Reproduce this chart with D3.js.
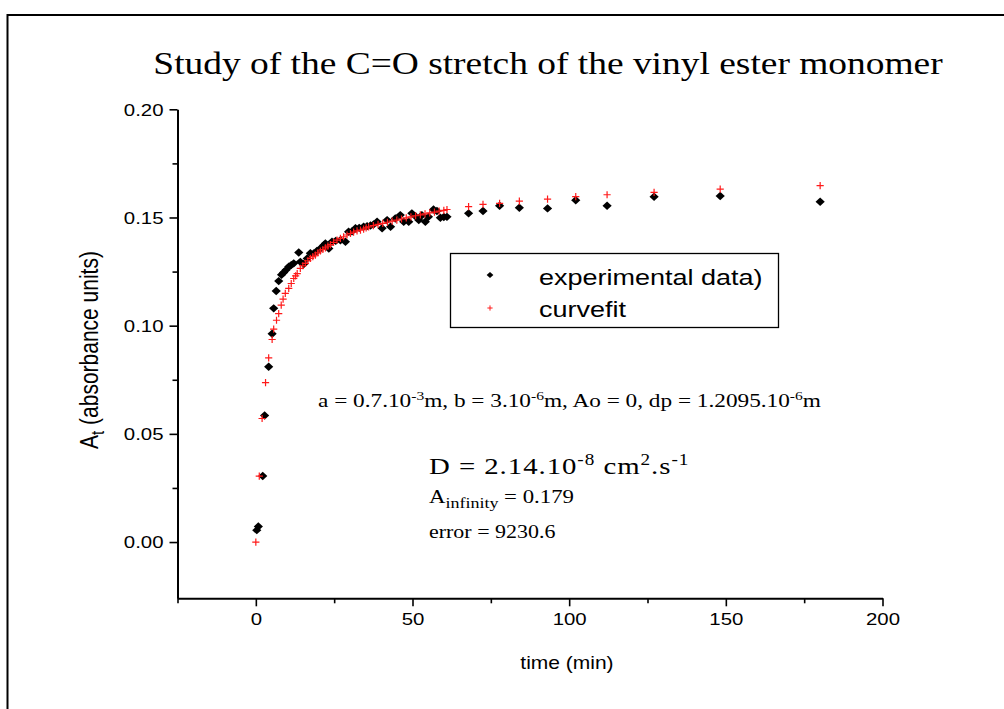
<!DOCTYPE html>
<html><head><meta charset="utf-8">
<script src="https://cdn.jsdelivr.net/npm/d3@7"></script>
<style>body{margin:0;background:#fff} svg{display:block}</style>
</head><body><svg id="c" width="1004" height="709"></svg>
<script>
// ---- data ----
const expTime = [0.3, 0.8, 2.2, 2.8, 4.1, 5.2, 5.7, 6.5, 7.3, 8.2, 8.9, 9.7, 10.5, 11.3, 12.1, 13.7, 14.2, 15.3, 16.4, 17.4, 18.5, 19.5, 20.6, 21.7, 22.2, 23.3, 24.3, 25.5, 27, 28.6, 29.6, 30.7, 31.8, 33, 34.4, 35.5, 36.6, 37.6, 38.7, 40.3, 41.9, 43, 44.5, 46.1, 47.2, 48.8, 49.8, 51, 52, 53, 54.1, 55.1, 56.7, 57.8, 58.9, 60, 61, 67.9, 72.5, 77.8, 84.1, 93.1, 102.1, 112.1, 127.1, 148.2, 180.1];
const expValue = [0.0055, 0.0072, 0.0305, 0.0585, 0.081, 0.0963, 0.108, 0.116, 0.1206, 0.1235, 0.1246, 0.1258, 0.1272, 0.128, 0.1288, 0.1338, 0.1295, 0.1285, 0.1311, 0.1335, 0.1334, 0.1345, 0.1357, 0.1372, 0.138, 0.1357, 0.1388, 0.1392, 0.1395, 0.1388, 0.1434, 0.1436, 0.145, 0.1452, 0.1457, 0.146, 0.1463, 0.1468, 0.148, 0.145, 0.1488, 0.1457, 0.1495, 0.1511, 0.148, 0.148, 0.1519, 0.1505, 0.1488, 0.151, 0.148, 0.1503, 0.1537, 0.153, 0.1499, 0.1502, 0.1503, 0.1519, 0.153, 0.1554, 0.1545, 0.1542, 0.158, 0.1554, 0.1596, 0.1599, 0.1573];
const fitTime = [0, 1.1, 2.0, 3.1, 4.1, 5.2, 5.7, 6.6, 7.3, 8.1, 8.7, 9.4, 10.5, 11.3, 12.1, 12.7, 13.2, 14.2, 15, 15.8, 16.6, 17.4, 18.2, 19, 19.8, 20.6, 21.4, 22.2, 23, 23.8, 24.8, 25.9, 27, 28, 29.1, 30.2, 31.2, 32.3, 33.4, 34.4, 35.2, 36, 37.5, 39, 40.5, 42, 43.5, 45, 46.5, 48, 49.5, 51, 52.5, 54, 55.5, 57, 58.5, 60, 61, 67.9, 72.5, 77.8, 84.1, 93.1, 102.1, 112.1, 127.1, 148.2, 180.1];
const fitValue = [0, 0.0305, 0.0571, 0.0737, 0.0851, 0.0936, 0.0984, 0.1025, 0.1056, 0.1095, 0.1123, 0.1149, 0.1172, 0.1195, 0.1218, 0.123, 0.1241, 0.1265, 0.1277, 0.1288, 0.13, 0.1311, 0.1319, 0.1326, 0.1336, 0.1345, 0.1352, 0.136, 0.1368, 0.1375, 0.1385, 0.1395, 0.1403, 0.1411, 0.1419, 0.1426, 0.1432, 0.1438, 0.1442, 0.1446, 0.1452, 0.1457, 0.1462, 0.1468, 0.1473, 0.1478, 0.1483, 0.1488, 0.1493, 0.1498, 0.1503, 0.1508, 0.1512, 0.1517, 0.1521, 0.1525, 0.1529, 0.1533, 0.1537, 0.155, 0.1561, 0.1565, 0.1576, 0.1585, 0.1596, 0.1605, 0.1616, 0.1631, 0.1647];
const xMajorTicks = [0, 50, 100, 150, 200];
const xMinorTicks = [-25, 25, 75, 125, 175];
const yMajorTicks = [0, 0.05, 0.10, 0.15, 0.20];
const yMinorTicks = [0.025, 0.075, 0.125, 0.175];
const titleText = "Study of the C=O stretch of the vinyl ester monomer";
const xTitle = "time (min)";
const seriesNames = ["experimental data)", "curvefit"];

// ---- drawing ----
const SX = 1.2; // horizontal stretch of all text in the original
const svg = d3.select("#c");
svg.append("rect").attr("x", 7.5).attr("y", 15).attr("width", 1100).attr("height", 800)
  .attr("fill", "none").attr("stroke", "#000").attr("stroke-width", 2);

const x = d3.scaleLinear().domain([-25, 200]).range([177.5, 882.5]);
const y = d3.scaleLinear().domain([-0.026, 0.20]).range([598.3, 109.3]);

function stretchedText(g, px, py, size, family, anchor) {
  return g.append("text")
    .attr("transform", `translate(${px},${py}) scale(${SX},1)`)
    .attr("font-size", size).attr("font-family", family)
    .attr("text-anchor", anchor || "start").attr("fill", "#000");
}
const SANS = "'Liberation Sans', Arial, sans-serif";
const SERIF = "'Liberation Serif', 'Times New Roman', serif";

// axes
const gx = svg.append("g").attr("transform", `translate(0,${y.range()[0]})`);
gx.call(d3.axisBottom(x).tickValues(xMajorTicks).tickSize(8).tickSizeOuter(0).tickFormat(d3.format("d")));
const gxm = svg.append("g").attr("transform", `translate(0,${y.range()[0]})`);
gxm.call(d3.axisBottom(x).tickValues(xMinorTicks).tickSize(5).tickSizeOuter(0).tickFormat(""));
gxm.select(".domain").remove();
const gy = svg.append("g").attr("transform", `translate(${x.range()[0]},0)`);
gy.call(d3.axisLeft(y).tickValues(yMajorTicks).tickSize(8).tickSizeOuter(0).tickFormat(d3.format(".2f")));
const gym = svg.append("g").attr("transform", `translate(${x.range()[0]},0)`);
gym.call(d3.axisLeft(y).tickValues(yMinorTicks).tickSize(5).tickSizeOuter(0).tickFormat(""));
gym.select(".domain").remove();

svg.selectAll(".domain").attr("stroke-width", 2);
svg.selectAll(".tick line").attr("stroke-width", 1.6);
gx.selectAll(".tick text").attr("font-size", 17).attr("font-family", SANS)
  .attr("y", 0).attr("dy", 0)
  .attr("transform", `translate(0,27) scale(${SX},1)`);
gy.selectAll(".tick text").attr("font-size", 17).attr("font-family", SANS)
  .attr("x", 0).attr("dy", "0.35em")
  .attr("transform", `translate(-14,0) scale(${SX},1)`);

// axis titles
stretchedText(svg, x(99.3), 669, 17.5, SANS, "middle").text(xTitle);
const yl = svg.append("text")
  .attr("transform", `translate(98,350) scale(${SX},1) rotate(-90)`)
  .attr("font-size", 21).attr("font-family", SANS).attr("text-anchor", "middle");
yl.append("tspan").text("A");
yl.append("tspan").attr("font-size", 15).attr("dy", 5).text("t");
yl.append("tspan").attr("dy", -5).text(" (absorbance units)");

// title
stretchedText(svg, 548, 74, 31.2, SERIF, "middle").text(titleText);

// data
const expData = expTime.map((t, i) => [t, expValue[i]]);
const fitData = fitTime.map((t, i) => [t, fitValue[i]]);
svg.append("g").selectAll("path").data(expData).join("path")
  .attr("transform", d => `translate(${x(d[0])},${y(d[1])})`)
  .attr("d", "M0,-4.2L4.6,0L0,4.2L-4.6,0Z").attr("fill", "#000");
svg.append("g").selectAll("path").data(fitData).join("path")
  .attr("transform", d => `translate(${x(d[0])},${y(d[1])})`)
  .attr("d", "M-3.6,0H3.6M0,-3.6V3.6").attr("stroke", "#ff1a1a").attr("stroke-width", 1.2).attr("fill", "none");

// legend
const lg = svg.append("g");
lg.append("rect").attr("x", 450.5).attr("y", 253.5).attr("width", 328).attr("height", 74)
  .attr("fill", "#fff").attr("stroke", "#000").attr("stroke-width", 1.3);
lg.append("path").attr("transform", "translate(490,275)").attr("d", "M0,-3L3.4,0L0,3L-3.4,0Z").attr("fill", "#000");
lg.append("path").attr("transform", "translate(490,308)").attr("d", "M-2.6,0H2.6M0,-2.6V2.6").attr("stroke", "#ff1a1a").attr("stroke-width", 1);
stretchedText(lg, 539, 285, 22.5, SANS).text(seriesNames[0]);
stretchedText(lg, 539, 317, 22.5, SANS).text(seriesNames[1]);

// annotations: [text, isSuperscript]
function richText(parts, px, py, size, supSize, shift, spacing) {
  const t = stretchedText(svg, px, py, size, SERIF);
  let prevSup = false;
  parts.forEach(([s, isSup], i) => {
    const dy = i === 0 ? (isSup ? -shift : 0) : (isSup === prevSup ? 0 : (isSup ? -shift : shift));
    t.append("tspan").attr("font-size", isSup ? supSize : size).attr("dy", dy)
      .attr("letter-spacing", spacing || 0).text(s);
    prevSup = isSup;
  });
  return t;
}
richText([["a = 0.7.10", 0], ["-3", 1], ["m, b = 3.10", 0], ["-6", 1], ["m, Ao = 0, dp = 1.2095.10", 0], ["-6", 1], ["m", 0]],
  318, 407, 19.4, 13, 7.5);
richText([["D = 2.14.10", 0], ["-8", 1], [" cm", 0], ["2", 1], [".s", 0], ["-1", 1]], 429, 474, 24, 16, 9.5, 0.8);

const a3 = stretchedText(svg, 429, 503, 19, SERIF);
a3.append("tspan").text("A");
a3.append("tspan").attr("font-size", 15).attr("dy", 5).text("infinity");
a3.append("tspan").attr("dy", -5).text(" = 0.179");

stretchedText(svg, 429, 538, 18.3, SERIF).text("error = 9230.6");
</script></body></html>
